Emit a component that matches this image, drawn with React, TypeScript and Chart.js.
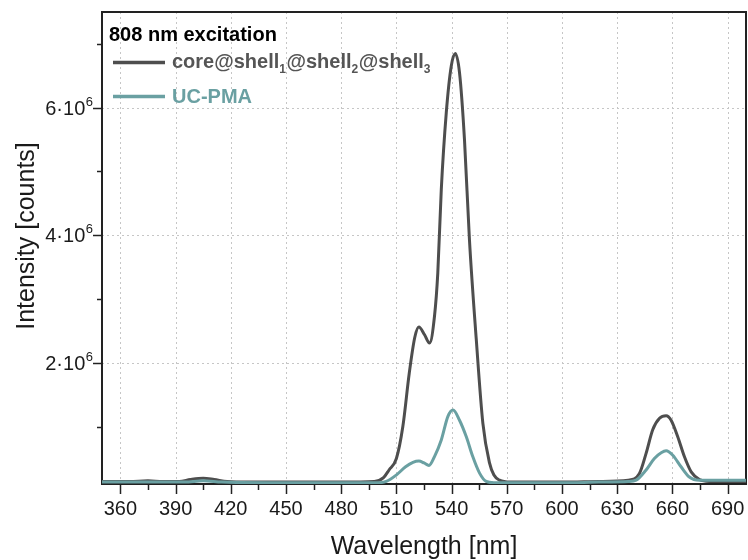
import { useEffect, useRef } from "react";
import { Chart, registerables } from "chart.js";

Chart.register(...registerables);

// ---- data (wavelength in nm, intensity in counts) ----
const coreWavelength = [
  350, 365, 375, 383, 392, 398, 405, 411, 418, 430, 450, 480, 498, 503, 506, 510,
  513.5, 517, 520, 522.2, 525.3, 528, 530.7, 532.5, 534.4, 537.1, 539.8, 542, 544.3,
  547, 549.7, 553.4, 557, 560.6, 563, 566, 572, 600, 620, 636, 642, 645.7, 649.3,
  653, 656.6, 659.3, 662.9, 666.5, 670.2, 674.7, 680, 700,
];
const coreIntensity = [
  0.14e6, 0.14e6, 0.15e6, 0.14e6, 0.14e6, 0.17e6, 0.19e6, 0.17e6, 0.14e6, 0.13e6, 0.13e6,
  0.13e6, 0.14e6, 0.2e6, 0.32e6, 0.5e6, 1.0e6, 1.84e6, 2.4e6, 2.56e6, 2.44e6, 2.31e6,
  2.73e6, 3.41e6, 4.72e6, 5.92e6, 6.65e6, 6.85e6, 6.55e6, 5.5e6, 3.93e6, 2.37e6, 1.05e6,
  0.43e6, 0.24e6, 0.16e6, 0.13e6, 0.13e6, 0.14e6, 0.16e6, 0.26e6, 0.58e6, 0.95e6, 1.13e6,
  1.17e6, 1.1e6, 0.84e6, 0.53e6, 0.29e6, 0.17e6, 0.14e6, 0.14e6,
];
const pmaWavelength = [
  350, 380, 395, 405, 415, 440, 480, 500, 504.5, 509.9, 515, 519, 522.2, 525, 527.7,
  530.7, 534.4, 538, 540.8, 544.3, 548, 551.5, 555.2, 558.8, 563, 600, 620, 636, 640.3,
  645.7, 650.2, 653.9, 656.6, 660.2, 664.7, 669.2, 674.7, 700,
];
const pmaIntensity = [
  0.13e6, 0.13e6, 0.13e6, 0.15e6, 0.13e6, 0.12e6, 0.12e6, 0.12e6, 0.14e6, 0.24e6, 0.37e6,
  0.44e6, 0.46e6, 0.43e6, 0.39e6, 0.53e6, 0.79e6, 1.16e6, 1.26e6, 1.1e6, 0.84e6, 0.53e6,
  0.27e6, 0.14e6, 0.12e6, 0.12e6, 0.13e6, 0.14e6, 0.16e6, 0.32e6, 0.5e6, 0.59e6, 0.62e6,
  0.55e6, 0.37e6, 0.21e6, 0.16e6, 0.16e6,
];

const xMajorTicks = [360, 390, 420, 450, 480, 510, 540, 570, 600, 630, 660, 690];
const xMinorTicks = [375, 405, 435, 465, 495, 525, 555, 585, 615, 645, 675];
const yMajorTicks = [2e6, 4e6, 6e6];
const yMinorTicks = [1e6, 3e6, 5e6, 7e6];
const yTickMantissa = ["2·10", "4·10", "6·10"];
const yTickExponent = "6";

const legendTitle = "808 nm excitation";
const coreLabel = "core@shell₁@shell₂@shell₃";
const coreLabelParts: [string, boolean][] = [
  ["core@shell", false], ["1", true], ["@shell", false], ["2", true], ["@shell", false], ["3", true],
];
const pmaLabel = "UC-PMA";
const xTitle = "Wavelength [nm]";
const yTitle = "Intensity [counts]";

const DARK = "#4e4e4e";
const TEAL = "#6aa0a2";
const FONT = '"Liberation Sans", Arial, Helvetica, sans-serif';

const decorPlugin = {
  id: "decor",
  beforeDatasetsDraw(chart: any) {
    const { ctx, chartArea: a, scales } = chart;
    const x = scales.x, y = scales.y;
    ctx.save();
    ctx.strokeStyle = "#c6c6c6";
    ctx.lineWidth = 1;
    ctx.setLineDash([2, 3]);
    for (const t of xMajorTicks) {
      const px = Math.round(x.getPixelForValue(t)) + 0.5;
      ctx.beginPath(); ctx.moveTo(px, a.top); ctx.lineTo(px, a.bottom); ctx.stroke();
    }
    for (const t of yMajorTicks) {
      const py = Math.round(y.getPixelForValue(t)) + 0.5;
      ctx.beginPath(); ctx.moveTo(a.left, py); ctx.lineTo(a.right, py); ctx.stroke();
    }
    ctx.setLineDash([]);
    ctx.strokeStyle = "#222";
    ctx.lineWidth = 2;
    ctx.strokeRect(a.left, a.top, a.right - a.left, a.bottom - a.top);
    ctx.lineWidth = 1.5;
    for (const t of xMajorTicks) {
      const px = Math.round(x.getPixelForValue(t)) + 0.5;
      ctx.beginPath(); ctx.moveTo(px, a.bottom); ctx.lineTo(px, a.bottom + 10); ctx.stroke();
    }
    for (const t of xMinorTicks) {
      const px = Math.round(x.getPixelForValue(t)) + 0.5;
      ctx.beginPath(); ctx.moveTo(px, a.bottom); ctx.lineTo(px, a.bottom + 6); ctx.stroke();
    }
    for (const t of yMajorTicks) {
      const py = Math.round(y.getPixelForValue(t)) + 0.5;
      ctx.beginPath(); ctx.moveTo(a.left, py); ctx.lineTo(a.left - 9, py); ctx.stroke();
    }
    for (const t of yMinorTicks) {
      const py = Math.round(y.getPixelForValue(t)) + 0.5;
      ctx.beginPath(); ctx.moveTo(a.left, py); ctx.lineTo(a.left - 5, py); ctx.stroke();
    }
    ctx.restore();
  },
  afterDatasetsDraw(chart: any) {
    const { ctx, chartArea: a, scales } = chart;
    const x = scales.x, y = scales.y;
    ctx.save();
    ctx.fillStyle = "#1a1a1a";
    ctx.font = `20px ${FONT}`;
    ctx.textAlign = "center";
    ctx.textBaseline = "alphabetic";
    for (const t of xMajorTicks) {
      ctx.fillText(String(t), x.getPixelForValue(t), a.bottom + 31);
    }
    yMajorTicks.forEach((t, i) => {
      const py = y.getPixelForValue(t);
      const right = a.left - 9;
      ctx.textAlign = "right";
      ctx.font = `13px ${FONT}`;
      const ew = ctx.measureText(yTickExponent).width;
      ctx.fillText(yTickExponent, right, py - 2);
      ctx.font = `20px ${FONT}`;
      ctx.fillText(yTickMantissa[i], right - ew - 0.5, py + 7);
    });
    ctx.font = `25px ${FONT}`;
    ctx.textAlign = "center";
    ctx.fillText(xTitle, (a.left + a.right) / 2, 554);
    ctx.save();
    ctx.translate(34, 236);
    ctx.rotate(-Math.PI / 2);
    ctx.fillText(yTitle, 0, 0);
    ctx.restore();
    ctx.textAlign = "left";
    ctx.fillStyle = "#000";
    ctx.font = `bold 20px ${FONT}`;
    ctx.fillText(legendTitle, 109, 41);
    ctx.strokeStyle = DARK;
    ctx.lineWidth = 3.5;
    ctx.beginPath(); ctx.moveTo(113, 62.5); ctx.lineTo(165, 62.5); ctx.stroke();
    ctx.fillStyle = "#555";
    let cx = 172;
    for (const [txt, sub] of coreLabelParts) {
      ctx.font = sub ? `bold 12px ${FONT}` : `bold 20px ${FONT}`;
      ctx.fillText(txt, cx, sub ? 73 : 68);
      cx += ctx.measureText(txt).width + (sub ? 0.5 : 0);
    }
    ctx.strokeStyle = TEAL;
    ctx.beginPath(); ctx.moveTo(113, 96.5); ctx.lineTo(165, 96.5); ctx.stroke();
    ctx.fillStyle = TEAL;
    ctx.font = `bold 20px ${FONT}`;
    ctx.fillText(pmaLabel, 172, 103);
    ctx.restore();
  },
};

export default function App() {
  const ref = useRef<HTMLCanvasElement | null>(null);
  useEffect(() => {
    document.body.style.margin = "0";
    const canvas = ref.current;
    if (!canvas) return;
    const chart = new Chart(canvas, {
      type: "line",
      data: {
        datasets: [
          {
            label: coreLabel,
            data: coreWavelength.map((w, i) => ({ x: w, y: coreIntensity[i] })),
            borderColor: DARK,
            borderWidth: 3,
            pointRadius: 0,
            fill: false,
            cubicInterpolationMode: "monotone",
            order: 1,
          },
          {
            label: pmaLabel,
            data: pmaWavelength.map((w, i) => ({ x: w, y: pmaIntensity[i] })),
            borderColor: TEAL,
            borderWidth: 3,
            pointRadius: 0,
            fill: false,
            cubicInterpolationMode: "monotone",
            order: 0,
          },
        ],
      },
      options: {
        responsive: false,
        animation: false,
        devicePixelRatio: 1,
        layout: { padding: { left: 0, right: 2, top: 12, bottom: 0 } },
        plugins: { legend: { display: false }, tooltip: { enabled: false } },
        scales: {
          x: {
            type: "linear",
            min: 350,
            max: 700,
            ticks: { display: false },
            grid: { display: false },
            border: { display: false },
            afterFit: (s: any) => { s.height = 76; },
          },
          y: {
            type: "linear",
            min: 0.1e6,
            max: 7.5e6,
            ticks: { display: false },
            grid: { display: false },
            border: { display: false },
            afterFit: (s: any) => { s.width = 102; },
          },
        },
      } as any,
      plugins: [decorPlugin],
    });
    return () => chart.destroy();
  }, []);
  return (
    <div style={{ width: 748, height: 560 }}>
      <canvas ref={ref} width={748} height={560} style={{ width: 748, height: 560, display: "block" }} />
    </div>
  );
}
